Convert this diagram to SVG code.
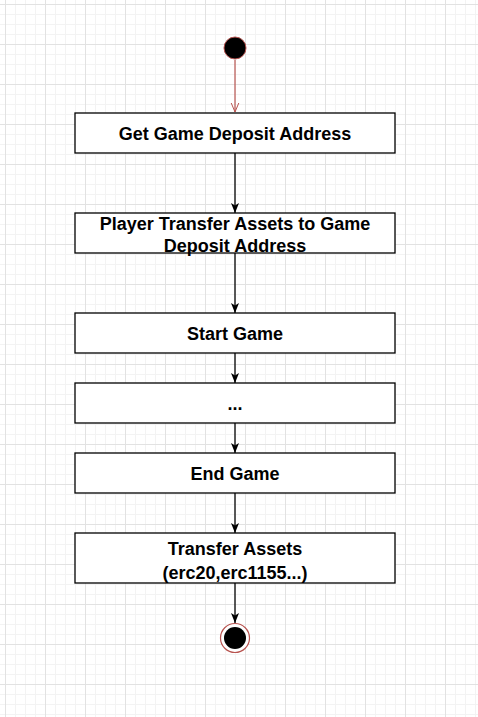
<svg xmlns="http://www.w3.org/2000/svg" width="478" height="717" viewBox="0 0 478 717">
<defs>
<pattern id="minor" x="5" y="4" width="10" height="10" patternUnits="userSpaceOnUse">
<path d="M0 0.5H10M0.5 0V10" fill="none" stroke="#f3f3f3" stroke-width="1"/>
</pattern>
<pattern id="major" x="5" y="4" width="40" height="40" patternUnits="userSpaceOnUse">
<path d="M0 0.5H40M0.5 0V40" fill="none" stroke="#e2e2e2" stroke-width="1"/>
</pattern>
<marker id="arr" viewBox="0 0 10 10" refX="10" refY="5" markerWidth="10" markerHeight="10" markerUnits="userSpaceOnUse" orient="auto">
<path d="M0 1 L10 5 L0 9 L2.5 5 Z" fill="#000"/>
</marker>
<marker id="open" viewBox="0 0 10 10" refX="9.5" refY="5" markerWidth="10" markerHeight="10" markerUnits="userSpaceOnUse" orient="auto">
<path d="M0 1 L9.5 5 L0 9" fill="none" stroke="#b85450" stroke-width="1"/>
</marker>
</defs>
<style>
.box{fill:#fff;stroke:#000;stroke-width:1.3}
.t{font-family:"Liberation Sans",Arial,sans-serif;font-weight:bold;font-size:18px;text-anchor:middle;fill:#000}
.e{stroke:#000;stroke-width:1.3;fill:none;marker-end:url(#arr)}
</style>
<rect width="478" height="717" fill="#fff"/>
<rect width="478" height="717" fill="url(#minor)"/>
<rect width="478" height="717" fill="url(#major)"/>

<g id="connectors">
<path d="M235 60V112" stroke="#b85450" stroke-width="1.2" fill="none" marker-end="url(#open)"/>
<path class="e" d="M235 153V213"/>
<path class="e" d="M235 253V313"/>
<path class="e" d="M235 353V383"/>
<path class="e" d="M235 423V453"/>
<path class="e" d="M235 493V533"/>
<path class="e" d="M235 583V623"/>
</g>

<g id="start">
<circle cx="235" cy="48" r="11" fill="#000" stroke="#b85450" stroke-width="1"/>
</g>
<g id="n1">
<rect class="box" x="75" y="113" width="320" height="40"/>
<text class="t" x="235" y="139.5">Get Game Deposit Address</text>
</g>
<g id="n2">
<rect class="box" x="75" y="213" width="320" height="40"/>
<text class="t" x="235" y="229.5">Player Transfer Assets to Game</text>
<text class="t" x="235" y="251.5">Deposit Address</text>
</g>
<g id="n3">
<rect class="box" x="75" y="313" width="320" height="40"/>
<text class="t" x="235" y="339.5">Start Game</text>
</g>
<g id="n4">
<rect class="box" x="75" y="383" width="320" height="40"/>
<text class="t" x="235" y="409.5">...</text>
</g>
<g id="n5">
<rect class="box" x="75" y="453" width="320" height="40"/>
<text class="t" x="235" y="479.5">End Game</text>
</g>
<g id="n6">
<rect class="box" x="75" y="533" width="320" height="50"/>
<text class="t" x="235" y="554.5">Transfer Assets</text>
<text class="t" x="235" y="578.5">(erc20,erc1155...)</text>
</g>
<g id="end">
<circle cx="235" cy="638" r="14.5" fill="#fff" stroke="#b85450" stroke-width="1.2"/>
<circle cx="235" cy="638" r="11" fill="#000"/>
</g>
</svg>
